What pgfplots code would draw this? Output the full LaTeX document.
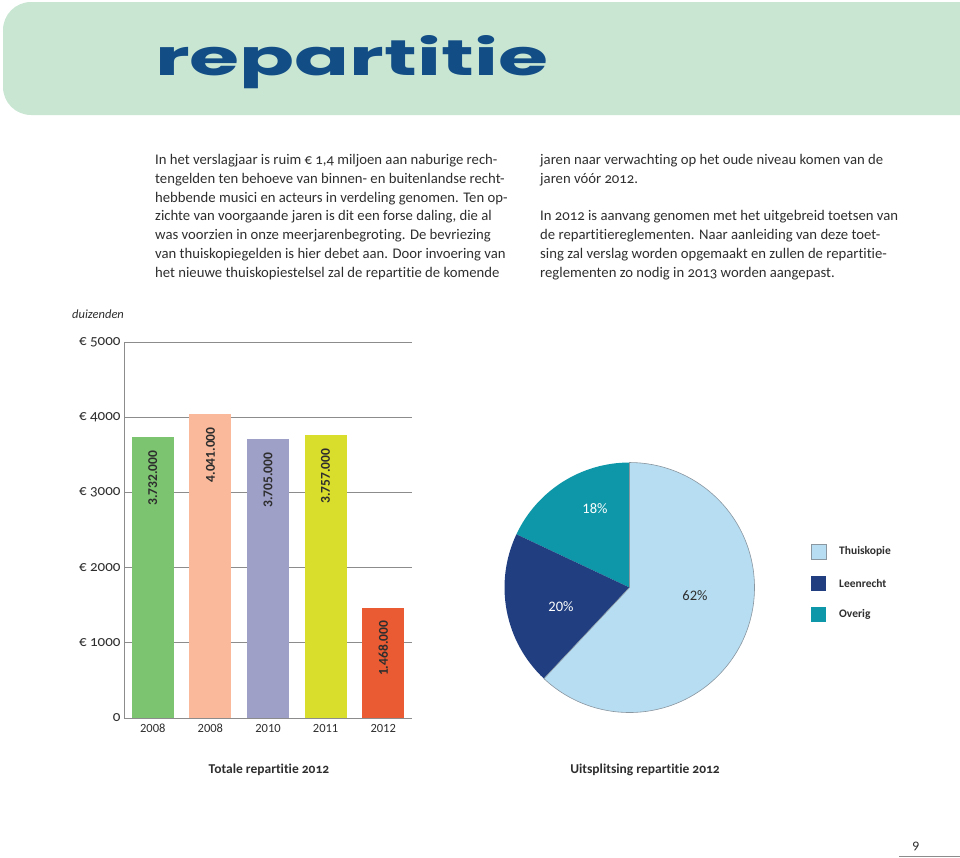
\documentclass[border=0pt]{standalone}
\usepackage{fontspec}
\setmainfont{Carlito}[Numbers=OldStyle, Ligatures={NoCommon}]
\newfontfamily\lining{Carlito}[Numbers=Lining, Ligatures={NoCommon}]
\newfontfamily\titlefont{Poppins}
\usepackage{pgfplots}
\pgfplotsset{compat=1.18}
\definecolor{bannergreen}{HTML}{C9E6D3}
\definecolor{titleblue}{HTML}{124D85}
\definecolor{bodytext}{HTML}{2E2E2E}
\definecolor{axisgray}{HTML}{8C8C8C}
\definecolor{bargreen}{HTML}{7DC470}
\definecolor{barsalmon}{HTML}{F9B99A}
\definecolor{barpurple}{HTML}{9FA0C8}
\definecolor{baryellow}{HTML}{D9DD2C}
\definecolor{barorange}{HTML}{EB5B33}
\definecolor{pielight}{HTML}{B6DDF1}
\definecolor{pienavy}{HTML}{213F80}
\definecolor{pieteal}{HTML}{0E97A8}
\definecolor{piegray}{HTML}{8A96A0}
\begin{document}
\begin{tikzpicture}[x=1pt,y=-1pt]
\useasboundingbox (0,0) rectangle (960,857);
\clip (0,0) rectangle (960,857);
% banner
\fill[bannergreen, rounded corners=28pt] (3,2) rectangle (1010,115);
\node[anchor=base west, inner sep=0, text=titleblue] at (155,75) {\resizebox{393pt}{40pt}{\titlefont\bfseries repartitie}};
% body text
\begin{scope}[every node/.style={anchor=base west, inner sep=0, text=bodytext, font=\fontsize{14.7}{16}\selectfont}]
\node at (155,164.5) {In het verslagjaar is ruim € 1,4 miljoen aan naburige rech-};
\node at (155,183.3) {tengelden ten behoeve van binnen- en buitenlandse recht-};
\node at (155,202.1) {hebbende musici en acteurs in verdeling genomen. Ten op-};
\node at (155,220.9) {zichte van voorgaande jaren is dit een forse daling, die al};
\node at (155,239.7) {was voorzien in onze meerjarenbegroting. De bevriezing};
\node at (155,258.5) {van thuiskopiegelden is hier debet aan. Door invoering van};
\node at (155,277.3) {het nieuwe thuiskopiestelsel zal de repartitie de komende};
\node at (540,164.5) {jaren naar verwachting op het oude niveau komen van de};
\node at (540,183.3) {jaren vóór 2012.};
\node at (540,220.9) {In 2012 is aanvang genomen met het uitgebreid toetsen van};
\node at (540,239.7) {de repartitiereglementen. Naar aanleiding van deze toet-};
\node at (540,258.5) {sing zal verslag worden opgemaakt en zullen de repartitie-};
\node at (540,277.3) {reglementen zo nodig in 2013 worden aangepast.};
\end{scope}
\node[anchor=west, inner sep=0, text=bodytext, font=\itshape\fontsize{12.5}{13}\selectfont] at (72,314) {duizenden};
% bar chart
\begin{axis}[at={(124pt,-718pt)}, anchor=south west, scale only axis,
  width=288pt, height=376pt,
  xmin=-0.5, xmax=4.5, ymin=0, ymax=5000,
  axis x line*=bottom, axis y line*=left,
  axis line style={axisgray, line width=0.8pt, -},
  ytick={0,1000,2000,3000,4000,5000},
  yticklabels={0,€ 1000,€ 2000,€ 3000,€ 4000,€ 5000},
  ymajorgrids, grid style={axisgray, line width=0.8pt},
  xtick={0,1,2,3,4}, xticklabels={2008,2008,2010,2011,2012},
  major tick length=0pt,
  yticklabel style={font=\fontsize{15}{15}\selectfont, text=bodytext},
  xticklabel style={font=\lining\fontsize{12.5}{13}\selectfont, text=bodytext,
     text height=8.5pt, text depth=0pt, anchor=north, yshift=-2pt},
  ybar, bar width=42pt, bar shift=0pt,
  nodes near coords, point meta=explicit symbolic,
  every node near coord/.append style={rotate=90, anchor=east, inner xsep=13pt,
     font=\lining\bfseries\fontsize{13.5}{14}\selectfont, text=bodytext},
]
\addplot[fill=bargreen, draw=none, bar shift=0pt] coordinates {(0,3732) [3.732.000]};
\addplot[fill=barsalmon, draw=none, bar shift=0pt] coordinates {(1,4041) [4.041.000]};
\addplot[fill=barpurple, draw=none, bar shift=0pt] coordinates {(2,3705) [3.705.000]};
\addplot[fill=baryellow, draw=none, bar shift=0pt] coordinates {(3,3757) [3.757.000]};
\addplot[fill=barorange, draw=none, bar shift=0pt] coordinates {(4,1468) [1.468.000]};
\end{axis}
% pie chart
\begin{axis}[at={(504.5pt,-712.5pt)}, anchor=south west, scale only axis,
  width=250pt, height=250pt, xmin=-1, xmax=1, ymin=-1, ymax=1,
  hide axis, clip=false]
\addplot[draw=none] coordinates {(0,0)};
\fill[pieteal] (axis cs:0,0) -- ++(90:125pt) arc[start angle=90, delta angle=18*3.6, radius=125pt] -- cycle;
\fill[pienavy] (axis cs:0,0) -- ++(154.8:125pt) arc[start angle=154.8, delta angle=20*3.6, radius=125pt] -- cycle;
\filldraw[fill=pielight, draw=piegray, line width=0.6pt] (axis cs:0,0) -- ++(226.8:125pt) arc[start angle=226.8, delta angle=62*3.6, radius=125pt] -- cycle;
\node[text=white, font=\lining\fontsize{14.5}{15}\selectfont] at (axis cs:-0.276,0.628) {18\%};
\node[text=white, font=\lining\fontsize{14.5}{15}\selectfont] at (axis cs:-0.548,-0.156) {20\%};
\node[text=bodytext, font=\lining\fontsize{14.5}{15}\selectfont] at (axis cs:0.524,-0.068) {62\%};
\end{axis}
% legend
\filldraw[fill=pielight, draw=piegray, line width=0.5pt] (811,544) rectangle (826,559);
\fill[pienavy] (811,576) rectangle (826,591);
\fill[pieteal] (811,607) rectangle (826,622);
\begin{scope}[every node/.style={anchor=west, inner sep=0, text=bodytext, font=\bfseries\fontsize{11.5}{12}\selectfont}]
\node at (839,551) {Thuiskopie};
\node at (839,583) {Leenrecht};
\node at (839,614) {Overig};
\end{scope}
% captions
\node[text=bodytext, font=\bfseries\fontsize{13.5}{14}\selectfont] at (269,770) {Totale repartitie 2012};
\node[text=bodytext, font=\bfseries\fontsize{13.5}{14}\selectfont] at (645,770) {Uitsplitsing repartitie 2012};
% page number
\node[text=bodytext, font=\fontsize{14}{14}\selectfont] at (916,846) {9};
\draw[axisgray, line width=0.8pt] (899,856) -- (960,856);
\end{tikzpicture}
\end{document}
